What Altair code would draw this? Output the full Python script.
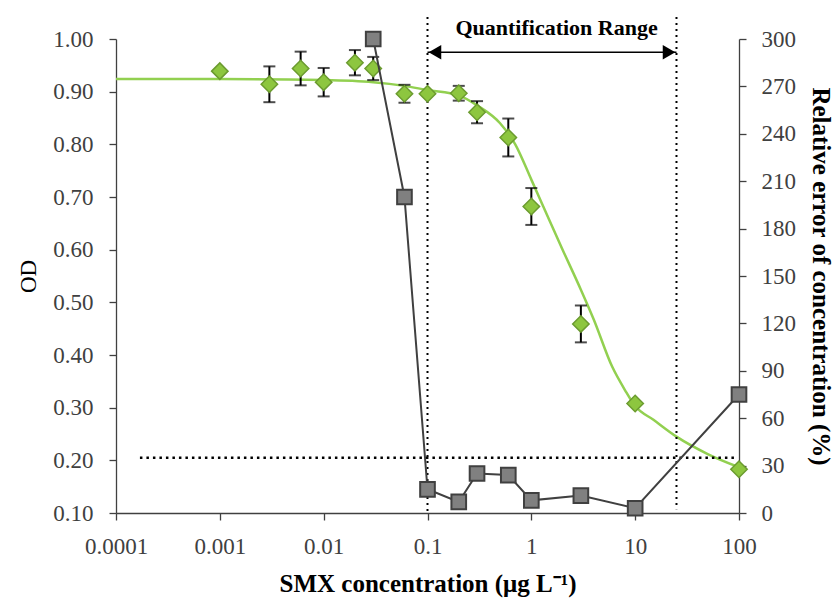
import altair as alt
import pandas as pd

# ---- data ----
od_x = [0.001, 0.003, 0.006, 0.01, 0.02, 0.03, 0.06, 0.1, 0.2, 0.3, 0.6, 1, 3, 10, 100]
od_y = [0.939, 0.914, 0.944, 0.918, 0.955, 0.944, 0.896, 0.896, 0.897, 0.861, 0.813, 0.682, 0.459, 0.308, 0.183]
od_err = [0, 0.034, 0.032, 0.027, 0.024, 0.022, 0.017, 0, 0.014, 0.021, 0.036, 0.035, 0.035, 0, 0]

fit_x = [0.0001, 0.001, 0.01, 0.03, 0.06, 0.1, 0.2, 0.3, 0.5, 0.7, 1, 1.5, 2, 3, 4, 6, 8, 10, 15, 25, 50, 100]
fit_y = [0.924, 0.924, 0.922, 0.918, 0.911, 0.903, 0.893, 0.874, 0.84, 0.8, 0.733, 0.655, 0.60, 0.524, 0.467, 0.378, 0.333, 0.303, 0.277, 0.245, 0.212, 0.187]

re_x = [0.03, 0.06, 0.1, 0.2, 0.3, 0.6, 1, 3, 10, 100]
re_y = [300, 200, 15, 7, 25, 24, 8, 11, 3, 75]

x_ticks = [0.0001, 0.001, 0.01, 0.1, 1, 10, 100]
od_ticks = [0.1, 0.2, 0.3, 0.4, 0.5, 0.6, 0.7, 0.8, 0.9, 1.0]
re_ticks = [0, 30, 60, 90, 120, 150, 180, 210, 240, 270, 300]

range_lo, range_hi = 0.1, 25
limit_od = 0.205
limit_x = [0.00017, 93]
label_text = "Quantification Range"

# ---- frames ----
pts = pd.DataFrame({"x": od_x, "y": od_y, "err": od_err})
pts["lo"] = pts["y"] - pts["err"]
pts["hi"] = pts["y"] + pts["err"]
bars = pts[pts["err"] > 0]
fit = pd.DataFrame({"x": fit_x, "y": fit_y})
rel = pd.DataFrame({"x": re_x, "y": re_y})
vlines = pd.DataFrame({"x": [range_lo, range_hi], "y": [1.042, 1.042], "y2": [0.1, 0.107]})
hline = pd.DataFrame({"x": [limit_x[0]], "x2": [limit_x[1]], "y": [limit_od]})
arrow = pd.DataFrame({"x": [range_lo], "x2": [range_hi], "y": [0.975]})
heads = pd.DataFrame({"x": [range_lo * 1.18, range_hi / 1.18], "y": [0.975, 0.975],
                      "shape": ["triangle-left", "triangle-right"]})
label = pd.DataFrame({"x": [1.75], "y": [1.021], "t": [label_text]})

FONT = "Liberation Serif"
AX = "#404040"

xs = alt.Scale(type="log", domain=[0.0001, 100], nice=False)
ys = alt.Scale(domain=[0.1, 1.0], nice=False, zero=False)
rs = alt.Scale(domain=[0, 300], nice=False)

common = dict(grid=False, tickSize=7, labelFont=FONT, labelFontSize=23, labelColor=AX,
              labelFlush=False, labelOverlap=False,
              titleFont=FONT, titleColor="#000000",
              domainColor=AX, tickColor=AX, domainWidth=1.3, tickWidth=1.3)

x_axis = alt.Axis(values=x_ticks, format="~g", title="SMX concentration (μg L⁻¹)",
                  labelPadding=15, titlePadding=13, titleFontSize=25, titleFontWeight="bold", **common)
y_axis = alt.Axis(values=od_ticks, format=".2f", title="OD",
                  labelPadding=16, titlePadding=12, titleFontSize=23, titleFontWeight="normal", **common)
r_axis = alt.Axis(values=re_ticks, format="d", title="Relative error of concentration (%)",
                  orient="right", labelPadding=15, titlePadding=12,
                  titleFontSize=25, titleFontWeight="bold", **common)


def X(field="x:Q"):
    return alt.X(field, scale=xs, axis=x_axis)


def Y(field="y:Q"):
    return alt.Y(field, scale=ys, axis=y_axis)


def R(field="y:Q"):
    return alt.Y(field, scale=rs, axis=r_axis)


fit_line = alt.Chart(fit).mark_line(color="#92D050", strokeWidth=2.5, interpolate="monotone").encode(
    x=X(), y=Y())
vdots = alt.Chart(vlines).mark_rule(color="black", strokeWidth=2, strokeDash=[2, 4]).encode(
    x=X(), y=Y(), y2="y2:Q")
hdots = alt.Chart(hline).mark_rule(color="black", strokeWidth=2.5, strokeDash=[2.5, 4]).encode(
    x=X(), x2="x2:Q", y=Y())
arrow_line = alt.Chart(arrow).mark_rule(color="black", strokeWidth=1.5).encode(
    x=X(), x2="x2:Q", y=Y())
arrow_heads = alt.Chart(heads).mark_point(filled=True, color="black", size=210, opacity=1).encode(
    x=X(), y=Y(), shape=alt.Shape("shape:N", scale=None, legend=None))
txt = alt.Chart(label).mark_text(font=FONT, fontSize=22, fontWeight="bold", color="black").encode(
    x=X(), y=Y(), text="t:N")
err_rule = alt.Chart(bars).mark_rule(color="black", strokeWidth=2).encode(
    x=X(), y=Y("lo:Q"), y2="hi:Q")
cap_lo = alt.Chart(bars).mark_tick(color="black", thickness=2, size=12, orient="horizontal").encode(
    x=X(), y=Y("lo:Q"))
cap_hi = alt.Chart(bars).mark_tick(color="black", thickness=2, size=12, orient="horizontal").encode(
    x=X(), y=Y("hi:Q"))
diamonds = alt.Chart(pts).mark_point(shape="diamond", filled=True, size=270, fill="#8DC63F",
                                     stroke="#6B9B2F", strokeWidth=1.5, opacity=1).encode(
    x=X(), y=Y())

left = alt.layer(fit_line, vdots, hdots, arrow_line, arrow_heads, txt,
                 err_rule, cap_lo, cap_hi, diamonds)

grey_line = alt.Chart(rel).mark_line(color="#404040", strokeWidth=2).encode(x=X(), y=R())
squares = alt.Chart(rel).mark_point(shape="square", filled=True, size=215, fill="#808080",
                                    stroke="#404040", strokeWidth=2, opacity=1).encode(x=X(), y=R())
right = alt.layer(grey_line, squares)

chart = alt.layer(left, right).resolve_scale(y="independent").properties(
    width=623, height=474,
    padding={"left": 116, "top": 39, "right": 98, "bottom": 88},
    autosize="none",
    background="white",
).configure_view(stroke=None)

chart.save("out.html", embed_options={"renderer": "svg", "actions": False})
